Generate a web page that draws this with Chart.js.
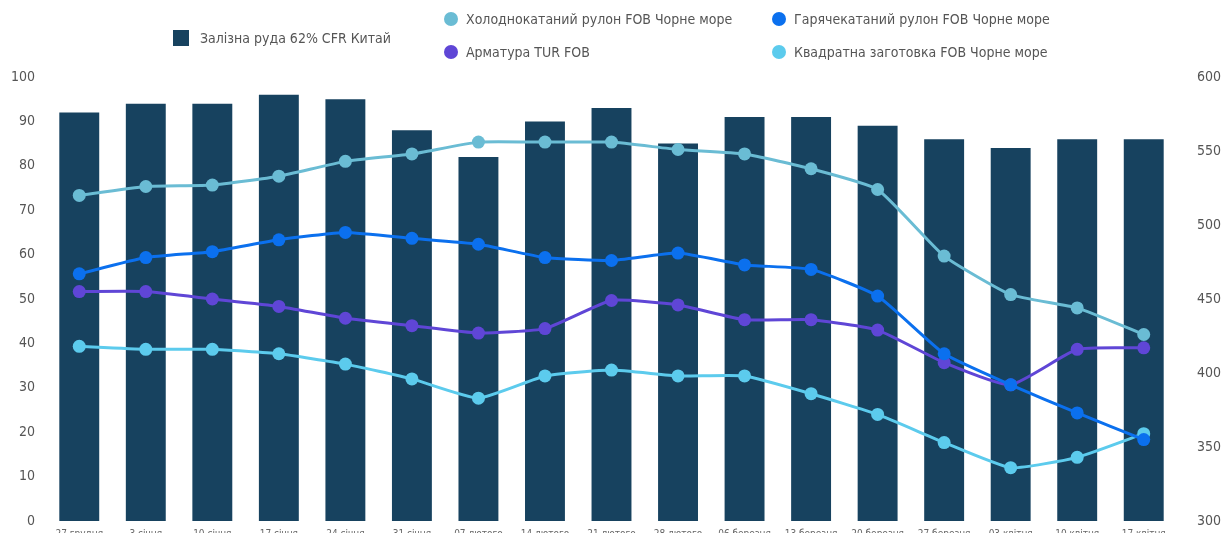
<!DOCTYPE html>
<html lang="uk">
<head>
<meta charset="utf-8">
<script src="https://cdn.jsdelivr.net/npm/chart.js@4.4.1/dist/chart.umd.min.js"></script>
<style>
  html, body { margin: 0; padding: 0; background: #fff; overflow: hidden; }
  #wrap { position: relative; width: 1227px; height: 533px; overflow: hidden; }
  #chart { position: absolute; left: 0; top: 0; }
  .lg { position: absolute; font-family: "Liberation Sans Narrow", "DejaVu Sans Condensed", "Roboto Condensed", sans-serif; font-size: 14px; color: #555; white-space: nowrap; line-height: 16px; }
  .lg i { position: absolute; display: block; }
</style>
</head>
<body>
<div id="wrap">
  <canvas id="chart" width="1227" height="551"></canvas>
  <div id="legend"></div>
</div>
<script>
const labels = ['27 грудня', '3 січня', '10 січня', '17 січня', '24 січня', '31 січня', '07 лютого', '14 лютого', '21 лютого', '28 лютого', '06 березня', '13 березня', '20 березня', '27 березня', '03 квітня', '10 квітня', '17 квітня']

// Залізна руда 62% CFR Китай (ліва вісь)
const ironOre = [92, 94, 94, 96, 95, 88, 82, 90, 93, 85, 91, 91, 89, 86, 84, 86, 86]
// права вісь
const coldRolled = [520, 526, 527, 533, 543, 548, 556, 556, 556, 551, 548, 538, 524, 479, 453, 444, 426]
const hotRolled = [467, 478, 482, 490, 495, 491, 487, 478, 476, 481, 473, 470, 452, 413, 392, 373, 355]
const rebar = [455, 455, 450, 445, 437, 432, 427, 430, 449, 446, 436, 436, 429, 407, 392, 416, 417]
const billet = [418, 416, 416, 413, 406, 396, 383, 398, 402, 398, 398, 386, 372, 353, 336, 343, 359]

const leftTicks = [0, 10, 20, 30, 40, 50, 60, 70, 80, 90, 100]
const rightTicks = [300, 350, 400, 450, 500, 550, 600]

const FONT = '"Liberation Sans Narrow", "DejaVu Sans Condensed", "Roboto Condensed", sans-serif'

const legendItems = [
  { text: 'Залізна руда 62% CFR Китай', color: '#17425f', shape: 'square', x: 173, y: 30 },
  { text: 'Холоднокатаний рулон FOB Чорне море', color: '#6abcd4', shape: 'circle', x: 444, y: 11 },
  { text: 'Арматура TUR FOB', color: '#5f46d6', shape: 'circle', x: 444, y: 44 },
  { text: 'Гарячекатаний рулон FOB Чорне море', color: '#0b70ee', shape: 'circle', x: 772, y: 11 },
  { text: 'Квадратна заготовка FOB Чорне море', color: '#5ccbed', shape: 'circle', x: 772, y: 44 }
]

const legendEl = document.getElementById('legend')
legendItems.forEach(item => {
  const d = document.createElement('div')
  d.className = 'lg'
  d.style.left = item.x + 'px'
  d.style.top = item.y + 'px'
  const mark = document.createElement('i')
  mark.style.background = item.color
  if (item.shape === 'square') {
    mark.style.width = '16px'; mark.style.height = '16px'; mark.style.left = '0px'; mark.style.top = '0px'
    d.style.paddingLeft = '27px'
  } else {
    mark.style.width = '14px'; mark.style.height = '14px'; mark.style.borderRadius = '50%'; mark.style.left = '0px'; mark.style.top = '1px'
    d.style.paddingLeft = '22px'
  }
  d.appendChild(mark)
  d.appendChild(document.createTextNode(item.text))
  legendEl.appendChild(d)
})

function lineSet (label, data, color, order) {
  return {
    type: 'line',
    label,
    data,
    yAxisID: 'y1',
    borderColor: color,
    backgroundColor: color,
    pointBackgroundColor: color,
    pointBorderColor: color,
    borderWidth: 3,
    pointRadius: 6.5,
    pointBorderWidth: 0,
    tension: 0.15,
    order
  }
}

new Chart(document.getElementById('chart'), {
  data: {
    labels,
    datasets: [
      lineSet('Гарячекатаний рулон FOB Чорне море', hotRolled, '#0b70ee', 1),
      lineSet('Холоднокатаний рулон FOB Чорне море', coldRolled, '#6abcd4', 2),
      lineSet('Арматура TUR FOB', rebar, '#5f46d6', 3),
      lineSet('Квадратна заготовка FOB Чорне море', billet, '#5ccbed', 4),
      {
        type: 'bar',
        label: 'Залізна руда 62% CFR Китай',
        data: ironOre,
        yAxisID: 'y',
        backgroundColor: '#17425f',
        categoryPercentage: 1,
        barPercentage: 0.6,
        order: 10
      }
    ]
  },
  options: {
    animation: false,
    responsive: false,
    layout: { padding: { top: 77, bottom: 4, left: 0, right: 0 } },
    plugins: {
      legend: { display: false },
      tooltip: { enabled: false }
    },
    scales: {
      x: {
        grid: { display: false, drawTicks: false },
        border: { display: false },
        ticks: { color: '#666', font: { family: FONT, size: 10 }, padding: 7, maxRotation: 0, autoSkip: false }
      },
      y: {
        position: 'left',
        min: 0,
        max: 100,
        afterBuildTicks (scale) { scale.ticks = leftTicks.map(v => ({ value: v })) },
        afterFit (scale) { scale.width = 46 },
        grid: { display: false, drawTicks: false },
        border: { display: false },
        ticks: { color: '#555', font: { family: FONT, size: 14 }, padding: 11 }
      },
      y1: {
        position: 'right',
        min: 300,
        max: 600,
        afterBuildTicks (scale) { scale.ticks = rightTicks.map(v => ({ value: v })) },
        afterFit (scale) { scale.width = 50 },
        grid: { display: false, drawTicks: false },
        border: { display: false },
        ticks: { color: '#555', font: { family: FONT, size: 14 }, padding: 20 }
      }
    }
  }
})
</script>
</body>
</html>
